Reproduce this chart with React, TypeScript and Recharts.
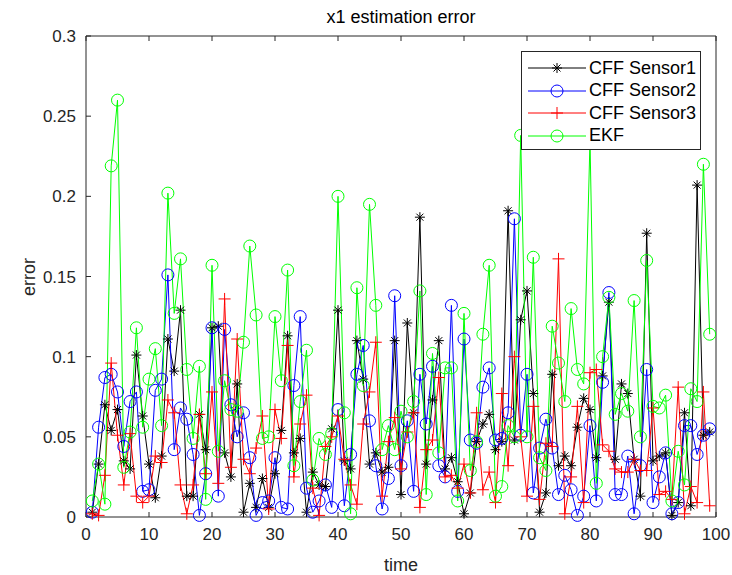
import React from 'react';
import { LineChart, Line, XAxis, YAxis } from 'recharts';

// error per time step, t = 1..99
const sensor1 = [
  0.003, 0.033, 0.07, 0.054, 0.067, 0.035, 0.03, 0.101, 0.063, 0.033,
  0.012, 0.038, 0.111, 0.091, 0.129, 0.013, 0.013, 0.064, 0.042, 0.118,
  0.119, 0.04, 0.025, 0.083, 0.003, 0.021, 0.006, 0.024, 0.006, 0.027,
  0.054, 0.113, 0.04, 0.049, 0.003, 0.028, 0.02, 0.019, 0.055, 0.129,
  0.035, 0.03, 0.11, 0.086, 0.033, 0.04, 0.028, 0.031, 0.11, 0.014,
  0.121, 0.065, 0.187, 0.033, 0.073, 0.11, 0.03, 0.037, 0.022, 0.002,
  0.015, 0.047, 0.058, 0.064, 0.042, 0.047, 0.191, 0.048, 0.123, 0.141,
  0.077, 0.003, 0.015, 0.089, 0.032, 0.038, 0.032, 0.056, 0.074, 0.067,
  0.037, 0.088, 0.134, 0.036, 0.083, 0.077, 0.036, 0.013, 0.177, 0.035,
  0.038, 0.04, 0.001, 0.009, 0.065, 0.007, 0.207, 0.051, 0.053,
];

const sensor2 = [
  0.003, 0.056, 0.087, 0.089, 0.078, 0.044, 0.072, 0.078, 0.016, 0.017,
  0.079, 0.086, 0.151, 0.042, 0.068, 0.061, 0.039, 0.001, 0.027, 0.118,
  0.013, 0.117, 0.07, 0.05, 0.065, 0.037, 0.001, 0.009, 0.01, 0.037,
  0.006, 0.005, 0.082, 0.125, 0.018, 0.003, 0.01, 0.02, 0.006, 0.067,
  0.007, 0.039, 0.089, 0.107, 0.06, 0.032, 0.005, 0.024, 0.138, 0.032,
  0.06, 0.016, 0.089, 0.058, 0.094, 0.032, 0.025, 0.132, 0.016, 0.111,
  0.048, 0.046, 0.081, 0.093, 0.048, 0.049, 0.065, 0.186, 0.051, 0.089,
  0.015, 0.043, 0.061, 0.043, 0.014, 0.026, 0.017, 0.001, 0.013, 0.057,
  0.01, 0.084, 0.14, 0.014, 0.014, 0.038, 0.002, 0.032, 0.092, 0.009,
  0.025, 0.04, 0.002, 0.009, 0.057, 0.057, 0.039, 0.051, 0.055,
];

const sensor3 = [
  0.002, 0.001, 0.026, 0.096, 0.051, 0.02, 0.052, 0.013, 0.009, 0.013,
  0.038, 0.034, 0.073, 0.065, 0.02, 0.002, 0.02, 0.064, 0.027, 0.078,
  0.021, 0.136, 0.031, 0.111, 0.036, 0.027, 0.043, 0.063, 0.005, 0.067,
  0.049, 0.107, 0.025, 0.058, 0.076, 0.018, 0.001, 0.044, 0.05, 0.063,
  0.036, 0.02, 0.008, 0.058, 0.078, 0.109, 0.013, 0.047, 0.062, 0.03,
  0.053, 0.065, 0.006, 0.042, 0.048, 0.087, 0.025, 0.026, 0.018, 0.033,
  0.015, 0.065, 0.017, 0.028, 0.009, 0.077, 0.032, 0.1, 0.05, 0.013,
  0.069, 0.011, 0.046, 0.044, 0.161, 0.002, 0.025, 0.069, 0.009, 0.09,
  0.092, 0.045, 0.041, 0.03, 0.028, 0.028, 0.036, 0.029, 0.029, 0.068,
  0.014, 0.016, 0.011, 0.081, 0.002, 0.019, 0.009, 0.078, 0.007,
];

const ekf = [
  0.01, 0.033, 0.008, 0.219, 0.26, 0.031, 0.053, 0.118, 0.056, 0.086,
  0.105, 0.057, 0.202, 0.127, 0.161, 0.092, 0.049, 0.094, 0.011, 0.157,
  0.041, 0.085, 0.067, 0.066, 0.109, 0.169, 0.126, 0.049, 0.05, 0.125,
  0.085, 0.154, 0.032, 0.072, 0.104, 0.023, 0.049, 0.039, 0.052, 0.2,
  0.065, 0.002, 0.143, 0.082, 0.195, 0.132, 0.042, 0.057, 0.042, 0.066,
  0.05, 0.072, 0.141, 0.014, 0.102, 0.04, 0.093, 0.093, 0.01, 0.127,
  0.029, 0.047, 0.114, 0.157, 0.013, 0.019, 0.057, 0.05, 0.238, 0.05,
  0.162, 0.037, 0.029, 0.119, 0.096, 0.072, 0.13, 0.092, 0.083, 0.235,
  0.021, 0.1, 0.137, 0.064, 0.077, 0.066, 0.135, 0.05, 0.16, 0.069,
  0.068, 0.076, 0.01, 0.041, 0.02, 0.08, 0.072, 0.22, 0.114,
];

const xTicks = [0, 10, 20, 30, 40, 50, 60, 70, 80, 90, 100];
const yTicks = [0, 0.05, 0.1, 0.15, 0.2, 0.25, 0.3];

const data = sensor1.map((v, i) => ({
  t: i + 1,
  s1: v,
  s2: sensor2[i],
  s3: sensor3[i],
  ekf: ekf[i],
}));

const FONT = '"Liberation Sans", Arial, sans-serif';

const Star = ({ cx, cy, color }: any) => (
  <g stroke={color} strokeWidth={1}>
    <line x1={cx - 5} y1={cy} x2={cx + 5} y2={cy} />
    <line x1={cx} y1={cy - 5} x2={cx} y2={cy + 5} />
    <line x1={cx - 3.5} y1={cy - 3.5} x2={cx + 3.5} y2={cy + 3.5} />
    <line x1={cx - 3.5} y1={cy + 3.5} x2={cx + 3.5} y2={cy - 3.5} />
  </g>
);

const Plus = ({ cx, cy, color }: any) => (
  <g stroke={color} strokeWidth={1}>
    <line x1={cx - 6} y1={cy} x2={cx + 6} y2={cy} />
    <line x1={cx} y1={cy - 6} x2={cx} y2={cy + 6} />
  </g>
);

const Ring = ({ cx, cy, color }: any) => (
  <circle cx={cx} cy={cy} r={6} fill="none" stroke={color} strokeWidth={1} />
);

const dotOf = (Shape: any, color: string) => (p: any) =>
  p.cx == null ? <g key={p.key ?? p.index} /> : (
    <g key={p.key ?? `${color}-${p.index}`}>
      <Shape cx={p.cx} cy={p.cy} color={color} />
    </g>
  );

const series = [
  { key: 's1', name: 'CFF Sensor1', color: '#000000', Shape: Star },
  { key: 's2', name: 'CFF Sensor2', color: '#0000ff', Shape: Ring },
  { key: 's3', name: 'CFF Sensor3', color: '#ff0000', Shape: Plus },
  { key: 'ekf', name: 'EKF', color: '#00ff00', Shape: Ring },
];

const tickStyle = { fill: '#262626', fontSize: 17, fontFamily: FONT };

export default function App() {
  return (
    <div style={{ position: 'absolute', left: 0, top: 0, width: 732, height: 575, background: '#fff' }}>
      <LineChart width={732} height={575} data={data} margin={{ top: 35, right: 15, left: 36, bottom: 28 }}>
        <XAxis
          dataKey="t"
          type="number"
          domain={[0, 100]}
          ticks={xTicks}
          xAxisId="b"
          height={30}
          tickSize={-5}
          tickMargin={16}
          stroke="#262626"
          tick={tickStyle}
        />
        <XAxis
          dataKey="t"
          type="number"
          domain={[0, 100]}
          ticks={xTicks}
          xAxisId="top"
          orientation="top"
          height={1}
          tickSize={-5}
          tickFormatter={() => ''}
          stroke="#262626"
        />
        <YAxis
          yAxisId="l"
          type="number"
          domain={[0, 0.3]}
          ticks={yTicks}
          width={50}
          tickSize={-5}
          tickMargin={15}
          stroke="#262626"
          tick={tickStyle}
        />
        <YAxis
          yAxisId="r"
          orientation="right"
          type="number"
          domain={[0, 0.3]}
          ticks={yTicks}
          width={1}
          tickSize={-5}
          tickFormatter={() => ''}
          stroke="#262626"
        />
        {series.map((s) => (
          <Line
            key={s.key}
            xAxisId="b"
            yAxisId="l"
            dataKey={s.key}
            name={s.name}
            stroke={s.color}
            strokeWidth={1}
            dot={dotOf(s.Shape, s.color)}
            activeDot={false}
            isAnimationActive={false}
            type="linear"
          />
        ))}
      </LineChart>

      <div style={{ position: 'absolute', left: 0, width: 802, top: 7, textAlign: 'center', fontFamily: FONT, fontSize: 18, color: '#000' }}>
        x1 estimation error
      </div>
      <div style={{ position: 'absolute', left: 0, width: 802, top: 555, textAlign: 'center', fontFamily: FONT, fontSize: 18, color: '#262626' }}>
        time
      </div>
      <div
        style={{
          position: 'absolute',
          left: 10,
          top: 266,
          transform: 'rotate(-90deg)',
          fontFamily: FONT,
          fontSize: 18,
          lineHeight: '22px',
          color: '#262626',
        }}
      >
        error
      </div>

      <div
        style={{
          position: 'absolute',
          left: 521,
          top: 51,
          width: 178,
          height: 97,
          border: '1px solid #262626',
          background: '#fff',
          fontFamily: FONT,
          fontSize: 18,
        }}
      >
        {series.map((s, i) => (
          <div key={s.key} style={{ position: 'absolute', left: 0, top: 5 + i * 22.5, height: 22, display: 'flex', alignItems: 'center' }}>
            <svg width={66} height={22}>
              <line x1={6} y1={11} x2={64} y2={11} stroke={s.color} strokeWidth={1} />
              <s.Shape cx={35} cy={11} color={s.color} />
            </svg>
            <span style={{ marginLeft: 1, color: '#000' }}>{s.name}</span>
          </div>
        ))}
      </div>
    </div>
  );
}
